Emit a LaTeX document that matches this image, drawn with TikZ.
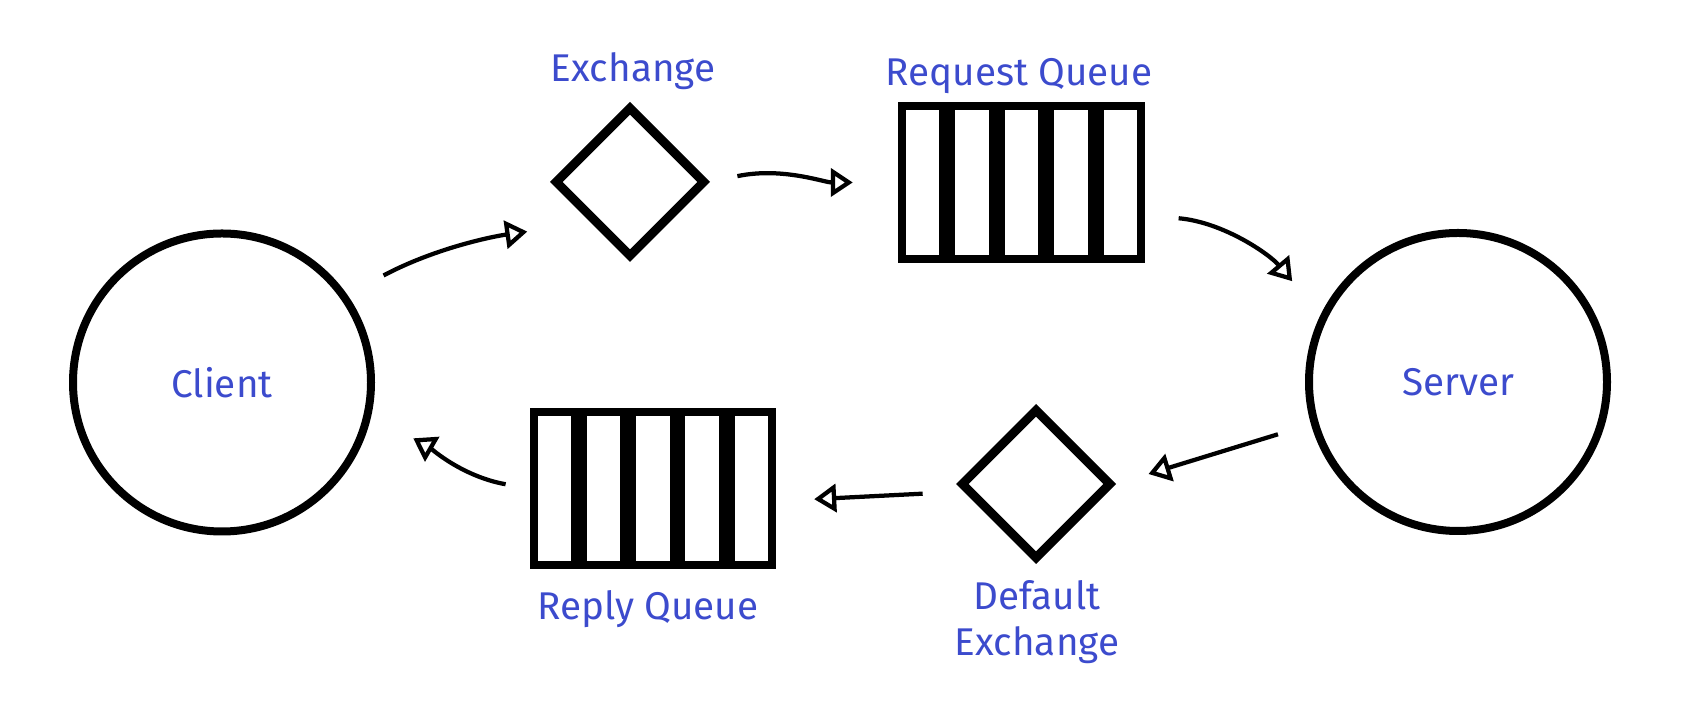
\documentclass[tikz,border=0pt]{standalone}
\usepackage{fontspec}
\setmainfont{Fira Sans}
\usepackage{tikz}
\usetikzlibrary{shapes.geometric, arrows.meta}
\definecolor{ink}{RGB}{60, 75, 205}
\tikzstyle{host} = [circle, draw = black, line width = 1.6mm, minimum size = 5.96cm, inner sep = 0pt, text = ink, font = \fontsize{22}{28}\selectfont]
\tikzstyle{xchg} = [diamond, draw = black, line width = 1.8mm, minimum size = 3.02cm, inner sep = 0pt]
\tikzstyle{cell} = [rectangle, draw = black, line width = 1.6mm, minimum width = 0.83cm, minimum height = 3.06cm, inner sep = 0pt]
\tikzstyle{inktext} = [text = ink, inner sep = 0pt, font = \fontsize{22}{26}\selectfont]
\tikzstyle{flow} = [-{Triangle[open, length = 4.4mm, width = 5.6mm]}, line width = 0.85mm]

\begin{document}
\begin{tikzpicture}
        \useasboundingbox (0, 0) rectangle (33.68, 14.5);

        \node (client) at (4.44, 6.85) [host] {Client};
        \node (server) at (29.16, 6.86) [host] {Server};

        \node (exchange) at (12.6, 10.86) [xchg] {};
        \node (exchangetext) at (12.66, 12.86) [inktext, anchor = base] {Exchange};
        \node (dexchange) at (20.72, 4.82) [xchg] {};
        \node (dexchangetext) at (20.74, 2.06) [inktext, align = center] {Default\\Exchange};

        \node (rq1) at (18.45, 10.85) [cell] {};
        \node (rq2) at (19.44, 10.85) [cell] {};
        \node (rq3) at (20.43, 10.85) [cell] {};
        \node (rq4) at (21.42, 10.85) [cell] {};
        \node (rq5) at (22.41, 10.85) [cell] {};
        \node (rqtext) at (20.38, 12.78) [inktext, anchor = base] {Request Queue};

        \node (rp1) at (11.09, 4.73) [cell] {};
        \node (rp2) at (12.07, 4.73) [cell] {};
        \node (rp3) at (13.06, 4.73) [cell] {};
        \node (rp4) at (14.04, 4.73) [cell] {};
        \node (rp5) at (15.03, 4.73) [cell] {};
        \node (rptext) at (12.96, 2.1) [inktext, anchor = base] {Reply Queue};

        \draw [flow, shorten <= 0.82cm, shorten >= 1.28cm] (client.35) to[out = 28, in = 188] (exchange.226);
        \draw [flow, shorten <= 0.56cm, shorten >= 0.9cm] (exchange.east) to[out = 12, in = 180] (rq1.west);
        \draw [flow, shorten <= 0.67cm, shorten >= 0.88cm] (rq5.-53) to[out = -5, in = 130] (server.154);
        \draw [flow, shorten <= 0.69cm, shorten >= 0.68cm] (server.196) -- (dexchange.east);
        \draw [flow, shorten <= 0.82cm, shorten >= 0.76cm] (dexchange.186) -- (rp5.-27);
        \draw [flow, shorten <= 0.49cm, shorten >= 0.96cm] (rp1.west) to[out = 170, in = -30] (client.-12);
    \end{tikzpicture}
\end{document}
